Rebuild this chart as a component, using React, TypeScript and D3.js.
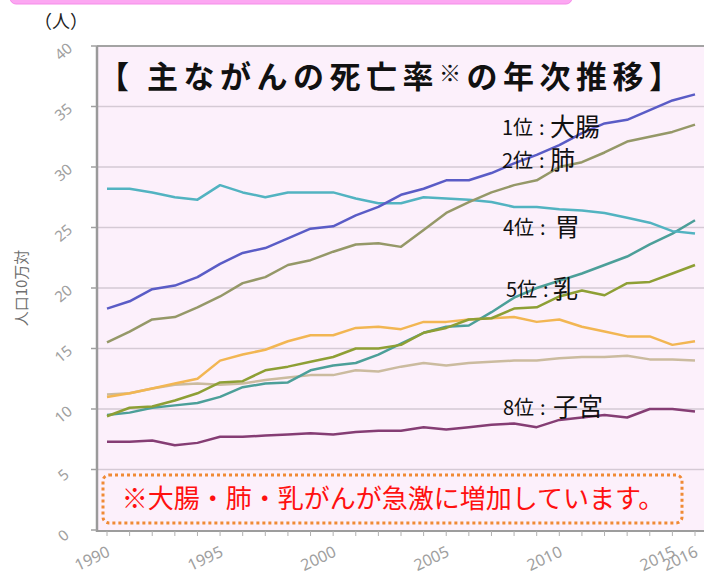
import React from "react";
import * as d3 from "d3";

const width = 706;
const height = 578;

const years = d3.range(1990, 2017);
const yTicks = [0, 5, 10, 15, 20, 25, 30, 35, 40];
const xTickLabels = [1990, 1995, 2000, 2005, 2010, 2015, 2016];

// 大腸
const colon = [18.3, 18.9, 19.9, 20.2, 20.9, 22.0, 22.9, 23.3, 24.1, 24.9, 25.1, 26.0, 26.7, 27.7, 28.2, 28.9, 28.9, 29.5, 30.3, 31.0, 31.8, 32.8, 33.6, 33.9, 34.7, 35.5, 36.0];
// 肺
const lung = [15.5, 16.4, 17.4, 17.6, 18.4, 19.3, 20.4, 20.9, 21.9, 22.3, 23.0, 23.6, 23.7, 23.4, 24.8, 26.2, 27.1, 27.9, 28.5, 28.9, 30.0, 30.4, 31.2, 32.1, 32.5, 32.9, 33.5];
// 胃
const stomach = [28.2, 28.2, 27.9, 27.5, 27.3, 28.5, 27.9, 27.5, 27.9, 27.9, 27.9, 27.4, 27.0, 27.0, 27.5, 27.4, 27.3, 27.1, 26.7, 26.7, 26.5, 26.4, 26.2, 25.8, 25.4, 24.7, 24.5];
const tealGreen = [9.5, 9.7, 10.1, 10.3, 10.5, 11.0, 11.8, 12.1, 12.2, 13.2, 13.6, 13.8, 14.5, 15.4, 16.3, 16.8, 16.9, 18.0, 19.2, 20.0, 20.6, 21.2, 21.9, 22.6, 23.6, 24.5, 25.6];
// 乳
const breast = [9.4, 10.1, 10.2, 10.7, 11.3, 12.2, 12.3, 13.2, 13.5, 13.9, 14.3, 15.0, 15.0, 15.3, 16.3, 16.7, 17.4, 17.5, 18.3, 18.4, 19.3, 19.8, 19.4, 20.4, 20.5, 21.2, 21.9];
const orange = [11.0, 11.3, 11.7, 12.1, 12.5, 14.0, 14.5, 14.9, 15.6, 16.1, 16.1, 16.7, 16.8, 16.6, 17.2, 17.2, 17.4, 17.5, 17.6, 17.2, 17.4, 16.8, 16.4, 16.0, 16.0, 15.3, 15.6];
const tan = [11.2, 11.3, 11.7, 12.0, 12.1, 12.0, 12.1, 12.4, 12.6, 12.8, 12.8, 13.2, 13.1, 13.5, 13.8, 13.6, 13.8, 13.9, 14.0, 14.0, 14.2, 14.3, 14.3, 14.4, 14.1, 14.1, 14.0];
// 子宮
const uterus = [7.3, 7.3, 7.4, 7.0, 7.2, 7.7, 7.7, 7.8, 7.9, 8.0, 7.9, 8.1, 8.2, 8.2, 8.5, 8.3, 8.5, 8.7, 8.8, 8.5, 9.1, 9.3, 9.5, 9.3, 10.0, 10.0, 9.8];

const series = [
  { values: uterus, color: "#853d74" },
  { values: tan, color: "#cbbb9f" },
  { values: orange, color: "#f2b653" },
  { values: tealGreen, color: "#4c9f99" },
  { values: breast, color: "#8e9f35" },
  { values: stomach, color: "#52b3c1" },
  { values: lung, color: "#959868" },
  { values: colon, color: "#5a5cc6" },
];

const labels = [
  { rank: "1位", name: "大腸", x: 502, nx: 550, y: 135 },
  { rank: "2位", name: "肺", x: 502, nx: 550, y: 168 },
  { rank: "4位", name: "胃", x: 503, nx: 555, y: 235 },
  { rank: "5位", name: "乳", x: 506, nx: 553, y: 297 },
  { rank: "8位", name: "子宮", x: 503, nx: 553, y: 415 },
];

const cjk = "'Noto Sans CJK JP', 'Noto Sans', sans-serif";

export default function App() {
  const x = d3.scaleLinear().domain([1990, 2016]).range([107, 695]);
  const y = d3.scaleLinear().domain([0, 40]).range([530, 46]);
  const left = 97;
  const right = 704;

  const line = d3
    .line<number>()
    .x((_, i) => x(years[i]))
    .y((d) => y(d));

  return (
    <svg width={width} height={height} style={{ position: "absolute", left: 0, top: 0 }}>
      <rect width={width} height={height} fill="#ffffff" />
      {/* pink banner at the very top */}
      <rect x={10} y={-10} width={562} height={14} rx={6} fill="#fca7f2" stroke="#f58ce9" />
      <text x={34} y={28} fontFamily={cjk} fontSize={18} fill="#222">（人）</text>

      {/* plot background */}
      <rect x={left} y={y(40)} width={right - left} height={y(0) - y(40)} fill="#fcf0fb" />

      {yTicks.slice(1, -1).map((t) => (
        <line key={t} x1={left} x2={right} y1={y(t)} y2={y(t)} stroke="#d5cad5" strokeWidth={1.5} />
      ))}
      <line x1={left} x2={right} y1={y(40)} y2={y(40)} stroke="#a3a3a3" strokeWidth={2} />
      <line x1={left} x2={right} y1={y(0) + 1} y2={y(0) + 1} stroke="#9d9d9d" strokeWidth={2} />
      <line x1={left} x2={left} y1={y(40)} y2={y(0) + 2} stroke="#9a9a9a" strokeWidth={2.5} />

      {yTicks.map((t) => (
        <g key={t}>
          <line x1={left - 6} x2={left} y1={y(t)} y2={y(t)} stroke="#a0a0a0" strokeWidth={1.5} />
          <text
            transform={`translate(63,${y(t) + 5}) rotate(-40)`}
            textAnchor="middle"
            dominantBaseline="central"
            fontFamily="'Noto Sans', sans-serif"
            fontSize={15}
            fill="#a0a0a0"
          >
            {t}
          </text>
        </g>
      ))}

      {years.map((yr) => (
        <line key={yr} x1={x(yr)} x2={x(yr)} y1={y(0) + 1} y2={y(0) + 6} stroke="#b0b0b0" strokeWidth={1} />
      ))}
      {xTickLabels.map((yr) => (
        <text
          key={yr}
          transform={`translate(${x(yr) - 15},${558}) rotate(-25)`}
          textAnchor="middle"
          dominantBaseline="central"
          fontFamily="'Noto Sans', sans-serif"
          fontSize={16}
          fill="#a0a0a0"
        >
          {yr}
        </text>
      ))}

      <text
        transform="translate(20,288) rotate(-90)"
        textAnchor="middle"
        dominantBaseline="central"
        fontFamily={cjk}
        fontSize={15}
        fill="#6f6f6f"
      >
        人口10万対
      </text>

      {series.map((s, i) => (
        <path key={i} d={line(s.values) || ""} fill="none" stroke={s.color} strokeWidth={2.5} strokeLinejoin="round" />
      ))}

      <text x={98} y={88} fontFamily={cjk} fontSize={31} fontWeight="bold" fill="#111" letterSpacing={5.5}>
        【 主ながんの死亡率<tspan fontSize={22} dy={-7}>※</tspan><tspan dy={7}>の年次推移】</tspan>
      </text>

      {labels.map((l) => (
        <g key={l.rank} fontFamily={cjk} fill="#111">
          <text x={l.x} y={l.y} fontSize={20}>{l.rank}</text>
          <text x={l.x + 37} y={l.y} fontSize={20}>:</text>
          <text x={l.nx} y={l.y + 1} fontSize={25}>{l.name}</text>
        </g>
      ))}

      <rect
        x={103}
        y={475}
        width={579}
        height={48}
        rx={6}
        fill="none"
        stroke="#f08a35"
        strokeWidth={3}
        strokeDasharray="3 3"
      />
      <text x={393} y={508} textAnchor="middle" fontFamily={cjk} fontSize={26} fill="#ff1010">
        ※大腸・肺・乳がんが急激に増加しています。
      </text>
    </svg>
  );
}
